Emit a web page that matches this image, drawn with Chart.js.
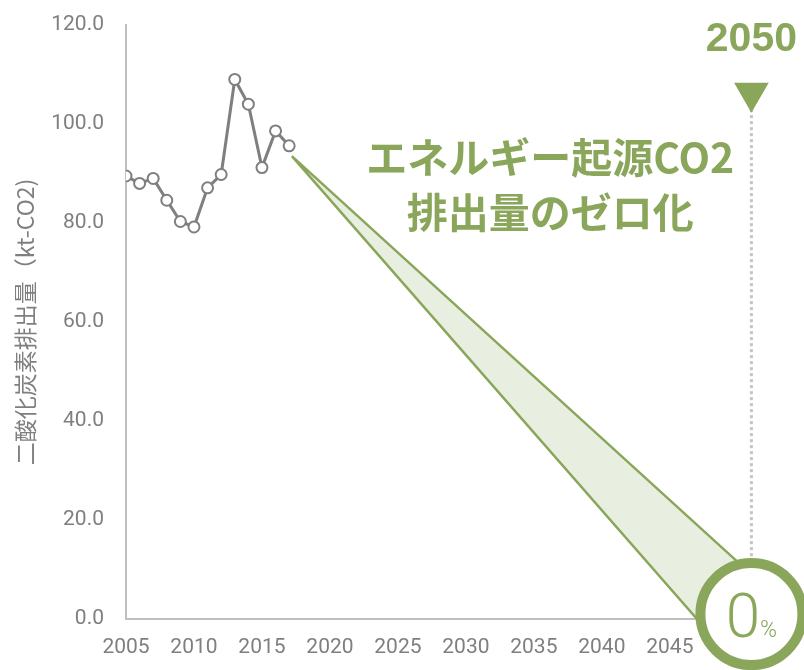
<!DOCTYPE html>
<html lang="ja">
<head>
<meta charset="utf-8">
<title>エネルギー起源CO2排出量</title>
<script src="https://cdn.jsdelivr.net/npm/chart.js@4/dist/chart.umd.min.js"></script>
<style>
  html, body { margin: 0; padding: 0; background: #fff; }
  #wrap { width: 804px; height: 670px; }
</style>
</head>
<body>
<div id="wrap"><canvas id="co2-chart" width="804" height="670"></canvas></div>
<script>
// Emissions record (kt-CO2)
var years = [2005, 2006, 2007, 2008, 2009, 2010, 2011, 2012, 2013, 2014, 2015, 2016, 2017];
var emissions = [89.5, 88.0, 89.0, 84.6, 80.3, 79.2, 87.1, 89.8, 109.0, 104.0, 91.2, 98.6, 95.6];

// Reduction wedge towards zero (apex, upper edge end, lower edge end)
var wedgeX = [2017.2, 2051, 2047, 2017.2];
var wedgeY = [93.5, 9, 0, 93.5];

// Goal marker column, dotted guide and end badge
var goalX = 2051;
var goalLabel = '2050';
var guideY = [103, 10];
var arrowY = 106.3;
var badgeY = 1;

// Axis settings
var yMin = 0, yMax = 120, yStep = 20;
var xMin = 2005, xMax = 2052, xStep = 5;
var yTitle = '二酸化炭素排出量（kt-CO2)';
var headline = ['エネルギー起源CO2', '排出量のゼロ化'];
var headlineX = 2036.2;
var headlineY = [93.3, 82.2];
var goalLabelY = 117;

var GREEN = '#8aa65b';
var GRAY = '#7f7f7f';
var TICK_FONT = '"Roboto", sans-serif';

function pts(xs, ys) {
    return xs.map(function (x, i) { return { x: x, y: ys[i] }; });
}

// Text on top of the datasets: headline, goal year and "0%" in the badge
var overlay = {
    id: 'overlay',
    afterDatasetsDraw: function (chart) {
        var ctx = chart.ctx;
        var x = chart.scales.x, y = chart.scales.y;
        ctx.save();
        ctx.fillStyle = GREEN;
        ctx.textAlign = 'center';
        ctx.textBaseline = 'middle';

        ctx.font = 'bold 41px "Noto Sans CJK JP", sans-serif';
        headline.forEach(function (line, i) {
            ctx.fillText(line, x.getPixelForValue(headlineX), y.getPixelForValue(headlineY[i]));
        });

        ctx.font = 'bold 41px "Liberation Sans", sans-serif';
        ctx.fillText(goalLabel, x.getPixelForValue(goalX), y.getPixelForValue(goalLabelY));

        // 0 with a small % sign
        var cx = x.getPixelForValue(goalX);
        var cy = y.getPixelForValue(badgeY);
        ctx.textAlign = 'left';
        ctx.textBaseline = 'alphabetic';
        ctx.font = '300 62px "Roboto", sans-serif';
        var w0 = ctx.measureText('0').width;
        ctx.font = '300 23px "Roboto", sans-serif';
        var w1 = ctx.measureText('%').width;
        var left = cx - (w0 + w1) / 2;
        ctx.font = '300 62px "Roboto", sans-serif';
        ctx.fillText('0', left, cy + 23);
        ctx.font = '300 23px "Roboto", sans-serif';
        ctx.fillText('%', left + w0, cy + 23);
        ctx.restore();
    }
};

var ctx = document.getElementById('co2-chart');

var config = {
    type: 'line',
    data: {
        datasets: [{
            // end badge
            data: pts([goalX], [badgeY]),
            order: 0,
            showLine: false,
            pointRadius: 51,
            pointBorderWidth: 10,
            pointBorderColor: GREEN,
            pointBackgroundColor: '#ffffff',
            clip: false
        }, {
            // arrow head above the guide
            data: pts([goalX], [arrowY]),
            order: 1,
            showLine: false,
            pointStyle: 'triangle',
            rotation: 180,
            pointRadius: 20,
            pointBorderWidth: 0,
            pointBackgroundColor: GREEN,
            clip: false
        }, {
            // recorded emissions
            data: pts(years, emissions),
            order: 2,
            borderColor: GRAY,
            borderWidth: 3,
            pointRadius: 5.5,
            pointBorderWidth: 2,
            pointBorderColor: GRAY,
            pointBackgroundColor: '#ffffff',
            tension: 0
        }, {
            // reduction wedge
            data: pts(wedgeX, wedgeY),
            order: 3,
            borderColor: GREEN,
            borderWidth: 2.5,
            backgroundColor: '#e9efe0',
            fill: 'shape',
            pointRadius: 0,
            tension: 0
        }, {
            // dotted guide line at the goal
            data: pts([goalX, goalX], guideY),
            order: 4,
            borderColor: '#c4c4c4',
            borderWidth: 3,
            borderDash: [3, 3],
            pointRadius: 0
        }]
    },
    options: {
        responsive: false,
        animation: false,
        events: [],
        layout: {
            autoPadding: false,
            padding: { top: 25, right: 39, bottom: 0, left: 0 }
        },
        plugins: {
            legend: { display: false },
            tooltip: { enabled: false }
        },
        scales: {
            x: {
                type: 'linear',
                min: xMin,
                max: xMax,
                grid: { display: false, drawTicks: false },
                border: { display: true, color: '#bfbfbf', width: 2 },
                ticks: {
                    stepSize: xStep,
                    includeBounds: false,
                    padding: 16,
                    color: GRAY,
                    font: { family: TICK_FONT, size: 21 },
                    maxRotation: 0,
                    callback: function (v) { return v <= 2045 ? String(v) : ''; }
                },
                afterFit: function (scale) {
                    scale.height = 51;
                    scale.paddingLeft = 0;
                    scale.paddingRight = 0;
                }
            },
            y: {
                min: yMin,
                max: yMax,
                grid: { display: false, drawTicks: false },
                border: { display: true, color: '#bfbfbf', width: 2 },
                ticks: {
                    stepSize: yStep,
                    padding: 22,
                    color: GRAY,
                    font: { family: TICK_FONT, size: 21 },
                    callback: function (v) { return v.toFixed(1); }
                },
                title: {
                    display: true,
                    text: yTitle,
                    color: GRAY,
                    padding: { top: 11, bottom: 0 },
                    font: { family: '"Noto Sans CJK JP", sans-serif', size: 23 }
                },
                afterFit: function (scale) {
                    scale.width = 126;
                    scale.paddingTop = 0;
                    scale.paddingBottom = 0;
                }
            }
        }
    },
    plugins: [overlay]
};

var co2Chart = new Chart(ctx, config);
</script>
</body>
</html>
